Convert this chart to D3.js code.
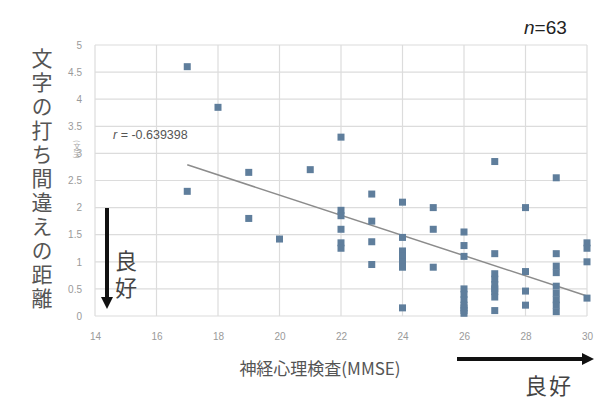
<!DOCTYPE html>
<html>
<head>
<meta charset="utf-8">
<script src="https://cdn.jsdelivr.net/npm/d3@7/dist/d3.min.js"></script>
<style>
  html, body { margin: 0; padding: 0; background: #fff; }
  svg { display: block; font-family: "Noto Sans CJK JP", "Noto Sans", sans-serif; }
</style>
</head>
<body>
<svg id="chart" width="599" height="400"></svg>
<script>
// ─── data ──────────────────────────────────────────────────
const mmse = [17, 17, 18, 19, 19, 20, 21,
  22, 22, 22, 22, 22, 22,
  23, 23, 23, 23,
  24, 24, 24, 24, 24, 24, 24,
  25, 25, 25,
  26, 26, 26, 26, 26, 26, 26, 26, 26, 26,
  27, 27, 27, 27, 27, 27, 27, 27, 27,
  28, 28, 28, 28,
  29, 29, 29, 29, 29, 29, 29, 29, 29,
  30, 30, 30, 30];
const distance = [4.6, 2.3, 3.85, 2.65, 1.8, 1.42, 2.7,
  3.3, 1.95, 1.85, 1.6, 1.35, 1.25,
  2.25, 1.75, 1.37, 0.95,
  2.1, 1.45, 1.2, 1.1, 1.0, 0.9, 0.15,
  2.0, 1.6, 0.9,
  1.55, 1.3, 1.1, 0.5, 0.4, 0.3, 0.2, 0.15, 0.1, 0.05,
  2.85, 1.15, 0.78, 0.68, 0.58, 0.5, 0.45, 0.35, 0.1,
  2.0, 0.82, 0.46, 0.2,
  2.55, 1.15, 0.92, 0.8, 0.55, 0.42, 0.3, 0.2, 0.08,
  1.35, 1.25, 1.0, 0.33];
const trendX = [17, 30];
const trendY = [2.79, 0.37];
const xTicks = [14, 16, 18, 20, 22, 24, 26, 28, 30];
const yTicks = [0, 0.5, 1, 1.5, 2, 2.5, 3, 3.5, 4, 4.5, 5];

const svg = d3.select('#chart');
const x = d3.scaleLinear().domain([14, 30]).range([95, 587]);
const y = d3.scaleLinear().domain([0, 5]).range([316, 45]);

// grid
svg.append('g').selectAll('line').data(yTicks).enter().append('line')
  .attr('x1', x(14)).attr('x2', x(30))
  .attr('y1', d => y(d)).attr('y2', d => y(d))
  .attr('stroke', '#dcdcdc').attr('stroke-width', 1.2);
svg.append('g').selectAll('line').data(xTicks).enter().append('line')
  .attr('x1', d => x(d)).attr('x2', d => x(d))
  .attr('y1', y(0)).attr('y2', y(5))
  .attr('stroke', '#dcdcdc').attr('stroke-width', 1.2);

// axes (labels only, Excel style)
const xAxis = svg.append('g').attr('transform', `translate(0,${y(0)})`)
  .call(d3.axisBottom(x).tickValues(xTicks).tickSize(0).tickPadding(17));
const yAxis = svg.append('g').attr('transform', `translate(${x(14)},0)`)
  .call(d3.axisLeft(y).tickValues(yTicks).tickSize(0).tickPadding(13).tickFormat(d3.format('')));
[xAxis, yAxis].forEach(a => {
  a.select('.domain').remove();
  a.selectAll('text').attr('fill', '#9a9a9a').style('font-size', '10px')
    .style('font-family', '"Liberation Sans", sans-serif');
});

// trend line
svg.append('line')
  .attr('x1', x(trendX[0])).attr('y1', y(trendY[0]))
  .attr('x2', x(trendX[1])).attr('y2', y(trendY[1]))
  .attr('stroke', '#8c8c8c').attr('stroke-width', 1.5);

// points
svg.append('g').selectAll('rect').data(mmse).enter().append('rect')
  .attr('x', (d, i) => x(d) - 3.5)
  .attr('y', (d, i) => y(distance[i]) - 3.5)
  .attr('width', 7).attr('height', 7)
  .attr('fill', '#5f7e9c');

// r label
const rt = svg.append('text').attr('x', 113).attr('y', 139)
  .attr('fill', '#555').style('font-size', '12.5px')
  .style('font-family', '"Liberation Sans", sans-serif');
rt.append('tspan').attr('font-style', 'italic').text('r');
rt.append('tspan').text(' = -0.639398');

// n label
const nt = svg.append('text').attr('x', 524).attr('y', 34)
  .attr('fill', '#222').style('font-size', '19px')
  .style('font-family', '"Liberation Sans", sans-serif');
nt.append('tspan').attr('font-style', 'italic').text('n');
nt.append('tspan').text('=63');

// y title (vertical)
svg.append('text')
  .attr('x', 42).attr('y', 48)
  .attr('fill', '#555').style('font-size', '21px')
  .style('writing-mode', 'vertical-rl').style('letter-spacing', '3px')
  .text('文字の打ち間違えの距離');
svg.append('text')
  .attr('x', 77).attr('y', 140)
  .attr('fill', '#aaa').style('font-size', '7px')
  .style('writing-mode', 'vertical-rl')
  .text('(文字)');

// x title
svg.append('text').attr('x', 320).attr('y', 375).attr('text-anchor', 'middle')
  .attr('fill', '#555').style('font-size', '17px')
  .text('神経心理検査(MMSE)');

// arrows
const defs = svg.append('defs');
defs.append('marker').attr('id', 'head').attr('viewBox', '0 0 10 10')
  .attr('refX', 5).attr('refY', 5).attr('markerWidth', 3).attr('markerHeight', 3)
  .attr('orient', 'auto')
  .append('path').attr('d', 'M0,0 L10,5 L0,10 z').attr('fill', '#111');
svg.append('line').attr('x1', 107).attr('y1', 208).attr('x2', 107).attr('y2', 303)
  .attr('stroke', '#111').attr('stroke-width', 4).attr('marker-end', 'url(#head)');
svg.append('line').attr('x1', 457).attr('y1', 359).attr('x2', 588).attr('y2', 359)
  .attr('stroke', '#111').attr('stroke-width', 4).attr('marker-end', 'url(#head)');

svg.append('text').attr('x', 126).attr('y', 250)
  .attr('fill', '#444').style('font-size', '22px')
  .style('writing-mode', 'vertical-rl').style('letter-spacing', '5px')
  .text('良好');
svg.append('text').attr('x', 549).attr('y', 394).attr('text-anchor', 'middle')
  .attr('fill', '#444').style('font-size', '22px').style('letter-spacing', '2px')
  .text('良好');
</script>
</body>
</html>
